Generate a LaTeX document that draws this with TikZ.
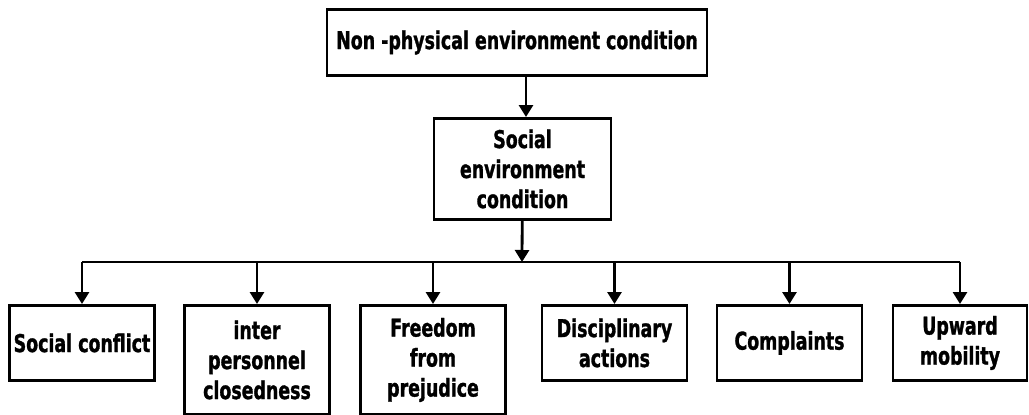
\documentclass[tikz,border=0pt]{standalone}
\usepackage{fontspec}
\setmainfont{DejaVu Sans}[FakeStretch=0.71, BoldFeatures={FakeBold=1.2}]
\usepackage{tikz}
\usetikzlibrary{arrows.meta,positioning}

\begin{document}
\begin{tikzpicture}[x=1pt, y=-1pt,
      box/.style={draw, line width=2.8pt, anchor=north,
                  minimum width=145pt, minimum height=75pt, inner sep=2pt,
                  font=\bfseries\fontsize{24.5}{30}\selectfont, align=center},
      tall/.style={box, minimum height=109pt},
      arr/.style={-{Triangle[width=14pt,length=12pt]}, line width=2.8pt}
  ]
    \useasboundingbox (0,0) rectangle (1029,415);
    \node[box, minimum width=380pt, minimum height=66pt] (np) at (517,8) {Non -physical environment condition};
    \node[box, minimum width=177pt, minimum height=101pt] (se) at (522.5,117) {Social\\ environment\\ condition};
    \coordinate (bus) at (522,262);
    \node[box]  (sc) at (82,304)    {Social conflict};
    \node[tall] (ip) at (257,304)   {inter\\ personnel\\ closedness};
    \node[tall] (fp) at (433,304)   {Freedom\\ from\\ prejudice};
    \node[box]  (da) at (614.5,304) {Disciplinary\\ actions};
    \node[box]  (cp) at (789.5,304) {Complaints};
    \node[box, minimum width=134pt] (um) at (960,304) {Upward\\ mobility};
    \draw[arr] (np.south -| 526,0) -- (se.north -| 526,0);
    \draw[arr] (se) -- (bus);
    \draw[line width=2.8pt] (bus -| sc) -- (bus -| um);
    \foreach \n in {sc,ip,fp,da,cp,um}
      \draw[arr] (bus -| \n) -- (\n);
  \end{tikzpicture}
\end{document}
